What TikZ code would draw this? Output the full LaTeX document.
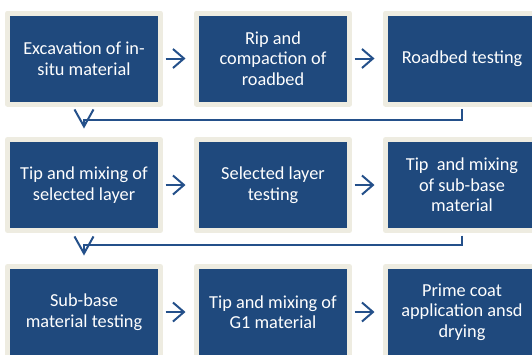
\documentclass[tikz,border=0pt]{standalone}
\usepackage{fontspec}
\setmainfont{Carlito}
\usetikzlibrary{arrows.meta}
\definecolor{boxnavy}{HTML}{1F497D}
\definecolor{boxrim}{HTML}{EEECE1}
\definecolor{linknavy}{HTML}{24508A}
\tikzset{
  stage/.style={draw=boxrim, fill=boxnavy, line width=5pt, line join=round,
    minimum width=153pt, minimum height=91pt, inner sep=0pt,
    text=white!96!boxrim, align=center,
    font=\fontsize{18.3}{20.5}\selectfont},
  nextstep/.style={draw=linknavy, line width=2pt,
    -{Straight Barb[length=11pt,width=19pt,line width=2pt]},
    shorten <=2.5pt, shorten >=8.5pt},
  wrapstep/.style={draw=linknavy, line width=2pt,
    -{Straight Barb[length=17pt,width=19pt,line width=2pt]},
    shorten <=2.5pt, shorten >=8.5pt}
}
\begin{document}
\begin{tikzpicture}[x=1pt,y=-1pt]
  \useasboundingbox (0,0) rectangle (532,354);
  \clip (0,0) rectangle (532,354);

  % first row
  \node[stage] (r1c1) at (84,58.5)  {Excavation of in-\\situ material};
  \node[stage] (r1c2) at (273,58.5) {Rip and\\compaction of\\roadbed};
  \node[stage] (r1c3) at (462,58.5) {Roadbed testing};

  % second row
  \node[stage] (r2c1) at (84,185)  {Tip and mixing of\\selected layer};
  \node[stage] (r2c2) at (273,185) {Selected layer\\testing};
  \node[stage] (r2c3) at (462,185) {Tip~ and mixing\\of sub-base\\material};

  % third row
  \node[stage] (r3c1) at (84,312)  {Sub-base\\material testing};
  \node[stage] (r3c2) at (273,312) {Tip and mixing of\\G1 material};
  \node[stage] (r3c3) at (462,312) {Prime coat\\application ansd\\drying};

  % arrows along each row
  \draw[nextstep] (r1c1.east) -- (r1c2.west);
  \draw[nextstep] (r1c2.east) -- (r1c3.west);
  \draw[nextstep] (r2c1.east) -- (r2c2.west);
  \draw[nextstep] (r2c2.east) -- (r2c3.west);
  \draw[nextstep] (r3c1.east) -- (r3c2.west);
  \draw[nextstep] (r3c2.east) -- (r3c3.west);

  % elbow links from the end of one row to the start of the next
  \coordinate (bend1) at (84,120);
  \coordinate (bend2) at (84,245);
  \draw[wrapstep] (r1c3.south) |- (bend1) -- (bend1 |- r2c1.north);
  \draw[wrapstep] (r2c3.south) |- (bend2) -- (bend2 |- r3c1.north);
\end{tikzpicture}
\end{document}
